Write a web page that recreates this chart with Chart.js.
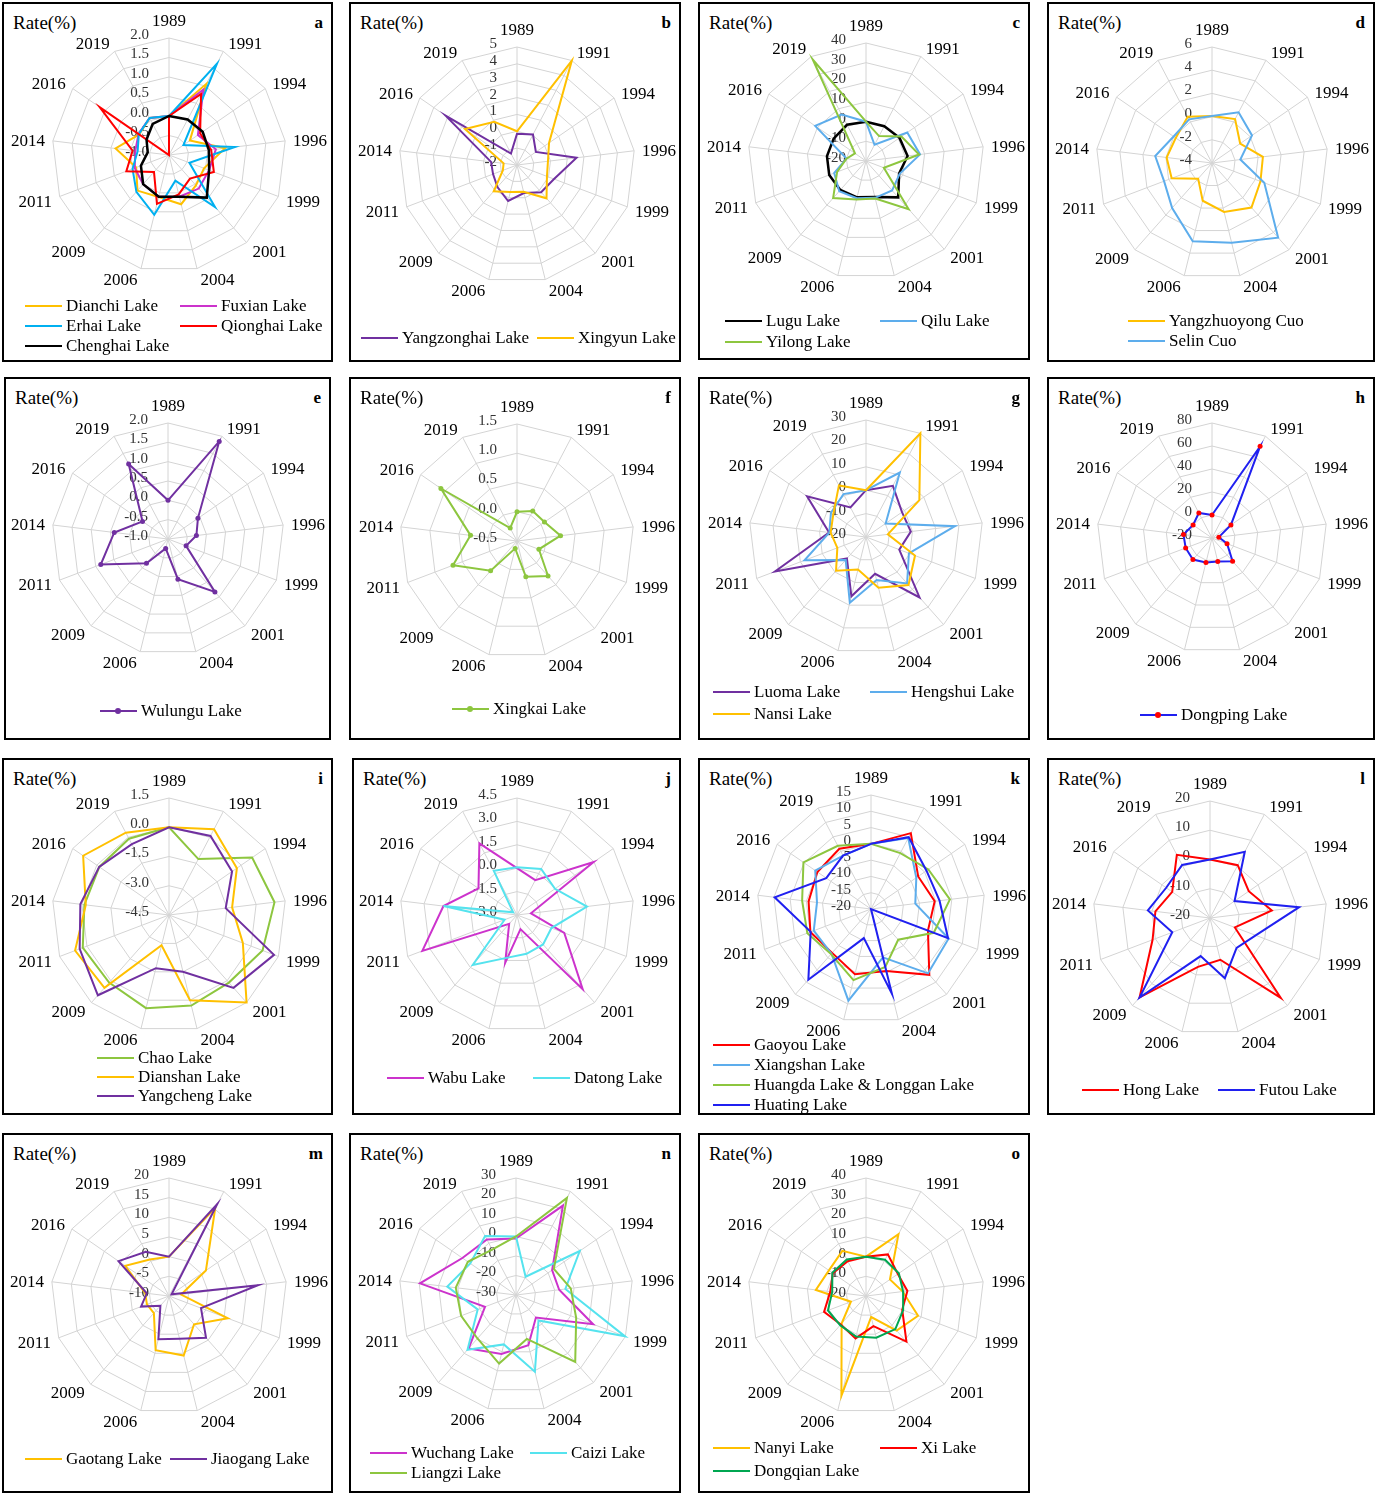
<!DOCTYPE html>
<html>
<head>
<meta charset="utf-8">
<script src="https://cdn.jsdelivr.net/npm/chart.js@4.4.1/dist/chart.umd.min.js"></script>
<style>
  body { margin: 0; background: #fff; font-family: 'Liberation Serif', 'Times New Roman', serif; }
  #wrap { position: relative; width: 1379px; height: 1493px; overflow: hidden; }
  .panel { position: absolute; border: 2px solid #000; box-sizing: border-box; }
  canvas { position: absolute; }
  .rate { position: absolute; font-size: 19px; line-height: 20px; color: #000; }
  .tag { position: absolute; font-size: 17px; font-weight: bold; line-height: 20px; text-align: right; width: 20px; }
  .legtxt { position: absolute; font-size: 17px; line-height: 20px; white-space: nowrap; color: #000; }
  .legline { position: absolute; width: 37px; height: 2px; }
  .legdot { position: absolute; width: 6px; height: 6px; border-radius: 50%; }
</style>
</head>
<body>
<div id="wrap"></div>
<script>
'use strict';

// Años (categorias del radar)
const years = ['1989', '1991', '1994', '1996', '1999', '2001', '2004', '2006', '2009', '2011', '2014', '2016', '2019'];

// a
const dianchi  = [0, 1.06, -0.35, 0.45, -0.04, 0.04, 0.3, 0.11, 0.22, -0.1, 0.38, -0.07, 0.07];
const fuxian   = [0, 0.9, -0.1, 0.21, 0.1, 0.15, 0.1, 0.1, 0.0, -0.06, -0.13, -0.05, 0.07];
const erhai    = [0, 1.65, -0.55, 0.7, -0.44, 0.78, -0.32, 0.58, 0.26, 0.0, -0.19, -0.06, 0.07];
const qionghai = [0, 0.77, -0.03, 0.09, 0.23, -0.19, 0.04, 0.29, -0.42, 0.17, -0.06, 1.16, -1.0];
const chenghai = [0, 0.03, 0.05, 0.03, 0.1, 0.46, 0.1, 0.1, 0.0, -0.23, -0.45, -0.3, -0.1];
// b
const yangzonghai = [-0.15, 0.04, -0.64, 1.56, 0.35, 0.16, -0.29, 0.2, -0.25, -0.48, -0.45, 3.15, -1.23];
const xingyun     = [0, 5.0, 0.31, -0.15, -0.1, 0.64, -0.37, -0.35, 0.08, -1.1, -1.2, 1.75, 0.9];
// c
const lugu   = [0, 0, 0.7, 1.3, -2, 4.7, -1.2, -1, -0.3, 0, 0, 0, 0.8];
const qilu   = [0, -10.7, 5.5, 7.7, -1.7, 0, -0.7, -0.5, 0.5, -2.7, -10, 11.4, 6.7];
const yilong = [0, -5.7, 1.9, 7.2, -10.3, 12.7, -0.3, 0.2, 5.2, -4.3, -10, -13.2, 38.3];
// d
const yangzhuoyong = [0.05, 0.28, -1.05, 0.42, 0.47, 1.13, 0.34, -0.65, -2.2, -0.28, -0.06, -0.2, 0.5];
const selinCuo     = [0.05, 0.93, 0.19, -1.54, 0.82, 4.6, 3.08, 2.94, 1.18, 0.42, 0.93, 0.02, 0.25];
// e
const wulungu = [0, 1.85, -0.06, -0.26, -0.5, 0.83, 0.07, -0.75, -0.16, 0.86, 0.4, -0.2, 1.19];
// f
const xingkai = [0, 0.08, 0.07, 0.25, -0.1, 0.3, 0.13, -0.37, 0.18, 0.67, 0.3, 1.08, -0.25];
// g
const luoma    = [0, 4.7, -1.3, -0.7, -4.8, 14.5, -3.8, 6.1, -7.7, 21.6, -4.1, 10.6, -5.7];
const hengshui = [0, 11.1, -9.8, 18.3, -0.4, 6.5, -1.1, 8.9, -6.9, 8.1, -4.2, -1.8, 0.7];
const nansi    = [0, 30, 7.7, -10.6, 2.4, 7.4, 2.3, -5.7, -0.7, -6.9, -4.8, -3, 4.9];
// h
const dongping = [0, 70, 0, -14, -6, 7, 1, 2, 5, 4.5, 5, 0, 4.6];
// i
const chao      = [0, -1.26, 0.68, 0.95, 0.63, 0.13, 0.28, 0.42, 0.13, 0.23, -0.13, -0.16, -0.08];
const dianshan  = [0, 0.47, -0.27, -1.24, -0.45, 1.5, 0.0, -2.9, 0.49, 0.65, -0.2, 0.85, 0.27];
const yangcheng = [0, 0.08, -0.57, -1.57, 1.26, 0.49, -1.5, -1.69, 1.0, 0.4, 0.08, -0.15, -0.4];
// j
const wabu   = [0, -0.48, 2.97, -2.1, 0.24, 3.35, -2.07, 0.16, -2.24, 3.49, 1.75, 0.0, 2.19];
const datong = [0.06, 0.33, -0.04, 1.52, -0.64, -0.48, -0.44, -0.17, 1.28, -2.15, 1.75, -2.7, 0.2];
// k
const gaoyou    = [0, 6.3, -2.4, -0.3, -1.3, 7.0, -0.4, 0.6, -2.0, -0.1, -0.7, 0, 0.9];
const xiangshan = [0, 4.6, -3.1, -6.3, 5.5, 6.4, -4.7, 9.0, -1.7, -1.2, -3.3, 0.8, -1.5];
const huangda   = [0, -0.6, 1.4, 4.4, 0.6, -7.4, -1.7, 2.5, -1.5, 0.9, 1.3, 5.2, 1.9];
const huating   = [0, 4.9, 0.7, 1.2, 5.3, -20, 6.8, -10.8, 9.0, -0.2, 9.8, -3.3, -1.5];
// l
const hong  = [0, 0.4, -3.9, 1.3, -10.9, 16.5, -5.3, -2.8, 16.3, 1, -1.2, -4.3, 4.4];
const futou = [0, 5.6, -9.8, 10.7, -3.3, -6.3, 1.2, -6.6, 16.3, -6.2, 1.4, -1.8, 0.5];
// m
const gaotang  = [0, 15.3, 1.4, -6.9, 6.0, -0.4, 5.6, 4.2, -4.2, -4.0, -3.9, 3.5, 0.5];
const jiaogang = [0, 16.4, -9.2, 12.8, -1.3, 4.2, 1.2, 1.3, -6.7, -2.4, -4.3, 5.6, 2.7];
// n
const wuchang = [-1, 21.8, -7.5, -7.7, 12.3, -14.6, -3.5, 1.1, 6.7, -13, 19.6, 3.4, 2.1];
const caizi   = [0, -19.4, 9.7, -4.5, 29.8, -12.6, 10.5, -3.9, 7.5, -9, 5.5, -1.5, 4.1];
const liangzi = [0, 26.2, -6.4, -1.7, 3, 15.8, -6.8, 6.2, -0.2, 0.1, 1.1, 0, -3.7];
// o
const nanyi    = [0, 15.5, -5.2, -1.2, 8.3, 3.5, -9, 32.2, -1.3, -11.8, 5.7, 2.9, 5.9];
const xi       = [0, 3.9, -0.3, 1.2, -0.3, 11, -4.2, 2.2, -0.7, 2.8, -1.7, 0.5, 0];
const dongqian = [0, 0.8, 0.3, -1, 0.2, 2.5, 1.8, 1.2, -0.2, 0.7, -2.7, 0.8, 1];

// Colores
const YEL = '#FFC000', MAG = '#CC33CC', CYA = '#00B0F0', RED = '#FF0000', BLK = '#000000';
const PUR = '#7030A0', LBL = '#5DADEC', GRN = '#8DC63F', AQU = '#55E3EE', BLU = '#2020F0', DGR = '#00A651';

// Paneles: caja, centro y radio del radar, escala, series y leyenda
const panels = [
  { tag: 'a', box: [2, 2, 331, 360], c: [169, 155], R: 117, min: -1, max: 2, step: 0.5, dec: 1,
    series: [['Dianchi Lake', dianchi, YEL], ['Fuxian Lake', fuxian, MAG], ['Erhai Lake', erhai, CYA], ['Qionghai Lake', qionghai, RED], ['Chenghai Lake', chenghai, BLK]],
    leg: [25, 306, 155, 20, 2] },
  { tag: 'b', box: [349, 2, 332, 360], c: [517, 165], R: 118, min: -2, max: 5, step: 1, dec: 0,
    series: [['Yangzonghai Lake', yangzonghai, PUR], ['Xingyun Lake', xingyun, YEL]],
    leg: [361, 338, 176, 20, 2] },
  { tag: 'c', box: [698, 2, 332, 358], c: [866, 161], R: 118, min: -20, max: 40, step: 10, dec: 0,
    series: [['Lugu Lake', lugu, BLK], ['Qilu Lake', qilu, LBL], ['Yilong Lake', yilong, GRN]],
    leg: [725, 321, 155, 21, 2] },
  { tag: 'd', box: [1047, 2, 328, 360], c: [1212, 163], R: 116, min: -4, max: 6, step: 2, dec: 0,
    series: [['Yangzhuoyong Cuo', yangzhuoyong, YEL], ['Selin Cuo', selinCuo, LBL]],
    leg: [1128, 321, 0, 20, 1] },
  { tag: 'e', box: [4, 377, 327, 363], c: [168, 539], R: 116, min: -1, max: 2, step: 0.5, dec: 1, dots: true,
    series: [['Wulungu Lake', wulungu, PUR]],
    leg: [100, 711, 0, 20, 1] },
  { tag: 'f', box: [349, 377, 332, 363], c: [517, 541], R: 117, min: -0.5, max: 1.5, step: 0.5, dec: 1, dots: true,
    series: [['Xingkai Lake', xingkai, GRN]],
    leg: [452, 709, 0, 20, 1] },
  { tag: 'g', box: [698, 377, 332, 363], c: [866, 537], R: 117, min: -20, max: 30, step: 10, dec: 0,
    series: [['Luoma Lake', luoma, PUR], ['Hengshui Lake', hengshui, LBL], ['Nansi Lake', nansi, YEL]],
    leg: [713, 692, 157, 22, 2] },
  { tag: 'h', box: [1047, 377, 328, 363], c: [1212, 538], R: 115, min: -20, max: 80, step: 20, dec: 0, dots: true, dotColor: RED,
    series: [['Dongping Lake', dongping, BLU]],
    leg: [1140, 715, 0, 20, 1] },
  { tag: 'i', box: [2, 758, 331, 357], c: [169, 915], R: 117, min: -4.5, max: 1.5, step: 1.5, dec: 1,
    series: [['Chao Lake', chao, GRN], ['Dianshan Lake', dianshan, YEL], ['Yangcheng Lake', yangcheng, PUR]],
    leg: [97, 1058, 0, 19, 1] },
  { tag: 'j', box: [352, 758, 329, 357], c: [517, 915], R: 117, min: -3, max: 4.5, step: 1.5, dec: 1,
    series: [['Wabu Lake', wabu, MAG], ['Datong Lake', datong, AQU]],
    leg: [387, 1078, 146, 20, 2] },
  { tag: 'k', box: [698, 758, 332, 357], c: [871, 909], R: 114, min: -20, max: 15, step: 5, dec: 0,
    series: [['Gaoyou Lake', gaoyou, RED], ['Xiangshan Lake', xiangshan, LBL], ['Huangda Lake & Longgan Lake', huangda, GRN], ['Huating Lake', huating, BLU]],
    leg: [713, 1045, 0, 20, 1] },
  { tag: 'l', box: [1047, 758, 328, 357], c: [1210, 918], R: 117, min: -20, max: 20, step: 10, dec: 0,
    series: [['Hong Lake', hong, RED], ['Futou Lake', futou, BLU]],
    leg: [1082, 1090, 136, 20, 2] },
  { tag: 'm', box: [2, 1133, 331, 360], c: [169, 1296], R: 118, min: -10, max: 20, step: 5, dec: 0,
    series: [['Gaotang Lake', gaotang, YEL], ['Jiaogang Lake', jiaogang, PUR]],
    leg: [25, 1459, 145, 20, 2] },
  { tag: 'n', box: [349, 1133, 332, 360], c: [516, 1295], R: 117, min: -30, max: 30, step: 10, dec: 0,
    series: [['Wuchang Lake', wuchang, MAG], ['Caizi Lake', caizi, AQU], ['Liangzi Lake', liangzi, GRN]],
    leg: [370, 1453, 160, 20, 2] },
  { tag: 'o', box: [698, 1133, 332, 360], c: [866, 1296], R: 118, min: -20, max: 40, step: 10, dec: 0,
    series: [['Nanyi Lake', nanyi, YEL], ['Xi Lake', xi, RED], ['Dongqian Lake', dongqian, DGR]],
    leg: [713, 1448, 167, 23, 2] }
];

Chart.defaults.font.family = "'Liberation Serif', 'Times New Roman', serif";
Chart.defaults.animation = false;

// Etiquetas de valores a la izquierda del eje de 1989 (como en Excel)
const tickLabels = {
  id: 'tickLabels',
  beforeDatasetsDraw(chart, args, opts) {
    const s = chart.scales.r;
    const ctx = chart.ctx;
    ctx.save();
    ctx.font = "15px 'Liberation Serif'";
    ctx.fillStyle = '#333';
    ctx.textAlign = 'right';
    ctx.textBaseline = 'middle';
    s.ticks.forEach(t => {
      const v = Math.abs(t.value) < 1e-9 ? 0 : t.value;
      const y = s.yCenter - s.getDistanceFromCenterForValue(t.value);
      ctx.fillText(v.toFixed(opts.dec), s.xCenter - 20, y - 3);
    });
    ctx.restore();
  }
};

// Años alrededor del radar, colocados al estilo Excel
const yearLabels = {
  id: 'yearLabels',
  afterDraw(chart) {
    const s = chart.scales.r;
    const ctx = chart.ctx;
    ctx.save();
    ctx.font = "17px 'Liberation Serif'";
    ctx.fillStyle = '#000';
    chart.data.labels.forEach((lab, i) => {
      const px = s.getPointPosition(i, s.drawingArea + 6);
      const py = s.getPointPosition(i, s.drawingArea + 10);
      const dx = px.x - s.xCenter;
      if (Math.abs(dx) < 1) {
        ctx.textAlign = 'center';
        ctx.textBaseline = 'bottom';
        ctx.fillText(lab, px.x, py.y + 2);
      } else {
        ctx.textAlign = dx > 0 ? 'left' : 'right';
        ctx.textBaseline = 'middle';
        ctx.fillText(lab, px.x + (dx > 0 ? 2 : -2), py.y + 2);
      }
    });
    ctx.restore();
  }
};

const wrap = document.getElementById('wrap');

function addEl(cls, x, y, txt) {
  const el = document.createElement('div');
  el.className = cls;
  el.style.left = x + 'px';
  el.style.top = y + 'px';
  if (txt !== undefined) el.textContent = txt;
  wrap.appendChild(el);
  return el;
}

const PAD = 50;

panels.forEach(p => {
  const [bx, by, bw, bh] = p.box;
  const box = addEl('panel', bx, by);
  box.style.width = bw + 'px';
  box.style.height = bh + 'px';

  addEl('rate', bx + 11, by + 11, 'Rate(%)');
  addEl('tag', bx + bw - 30, by + 11, p.tag);

  // Canvas: area del grafico de 2R x 2R con margen para los años
  const S = 2 * p.R + 2 * PAD;
  const cv = document.createElement('canvas');
  cv.width = S;
  cv.height = S;
  cv.style.left = (p.c[0] - p.R - PAD) + 'px';
  cv.style.top = (p.c[1] - p.R - PAD) + 'px';
  wrap.appendChild(cv);

  const n = p.series.length;
  new Chart(cv.getContext('2d'), {
    type: 'radar',
    data: {
      labels: years,
      datasets: p.series.map(([name, data, color], i) => ({
        label: name,
        data: data,
        borderColor: color,
        backgroundColor: color,
        borderWidth: color === BLK ? 2.5 : 2,
        fill: false,
        tension: 0,
        order: n - i,
        pointRadius: p.dots ? 2.5 : 0,
        pointBackgroundColor: p.dotColor || color,
        pointBorderWidth: 0
      }))
    },
    options: {
      responsive: false,
      devicePixelRatio: 1,
      layout: { padding: PAD },
      plugins: {
        legend: { display: false },
        tooltip: { enabled: false },
        tickLabels: { dec: p.dec }
      },
      scales: {
        r: {
          min: p.min,
          max: p.max,
          ticks: { stepSize: p.step, display: false },
          grid: { color: '#d4d4d4', lineWidth: 1 },
          angleLines: { color: '#d4d4d4', lineWidth: 1 },
          pointLabels: { display: false }
        }
      }
    },
    plugins: [tickLabels, yearLabels]
  });

  // Leyenda
  const [lx, ly, colW, rowH, cols] = p.leg;
  p.series.forEach(([name, data, color], i) => {
    const x = lx + (i % cols) * colW;
    const y = ly + Math.floor(i / cols) * rowH;
    const line = addEl('legline', x, y - 1);
    line.style.background = color;
    if (p.dots) {
      const dot = addEl('legdot', x + 15, y - 3);
      dot.style.background = p.dotColor || color;
    }
    addEl('legtxt', x + 41, y - 10, name);
  });
});
</script>
</body>
</html>
